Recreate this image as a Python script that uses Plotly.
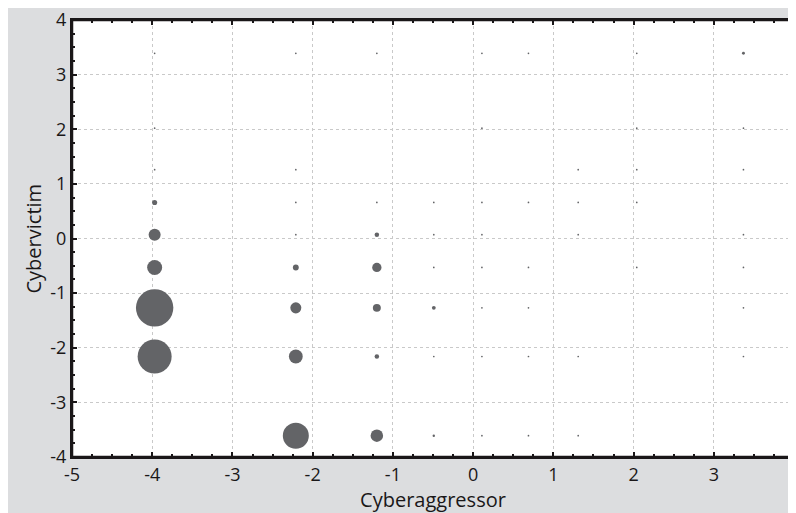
import plotly.graph_objects as go

# Column (Cyberaggressor) and row (Cybervictim) positions
col_x = [-3.97, -2.21, -1.20, -0.49, 0.11, 0.69, 1.31, 2.04, 3.37]
row_y = [3.39, 2.02, 1.26, 0.66, 0.07, -0.53, -1.27, -2.16, -3.61]

# Frequency of each (column, row) combination, rows top -> bottom, 0 = no point
counts_r1 = [1, 1, 1, 0, 1, 1, 0, 1, 3]      # y = 3.39
counts_r2 = [1, 0, 0, 0, 1, 0, 0, 1, 1]      # y = 2.02
counts_r3 = [1, 1, 0, 0, 0, 0, 1, 1, 1]      # y = 1.26
counts_r4 = [9, 1, 1, 1, 1, 1, 1, 1, 0]      # y = 0.66
counts_r5 = [50, 1, 7, 1, 1, 0, 1, 0, 1]     # y = 0.07
counts_r6 = [78, 12, 30, 1, 1, 1, 0, 1, 1]   # y = -0.53
counts_r7 = [484, 42, 22, 5, 1, 1, 0, 0, 1]  # y = -1.27
counts_r8 = [400, 66, 7, 1, 1, 1, 1, 0, 1]   # y = -2.16
counts_r9 = [0, 234, 54, 2, 1, 1, 1, 0, 0]   # y = -3.61

x_ticks = [-5, -4, -3, -2, -1, 0, 1, 2, 3, 4]
y_ticks = [-4, -3, -2, -1, 0, 1, 2, 3, 4]
x_range = [-5.0001, 4.0001]
y_range = [-4.0001, 4.0001]
minor_step = 0.25

x_minor = [x_ticks[0] + i * minor_step for i in range(int((x_ticks[-1] - x_ticks[0]) / minor_step) + 1)]
y_minor = [y_ticks[0] + i * minor_step for i in range(int((y_ticks[-1] - y_ticks[0]) / minor_step) + 1)]

count_rows = [counts_r1, counts_r2, counts_r3, counts_r4, counts_r5,
              counts_r6, counts_r7, counts_r8, counts_r9]

xs, ys, cs = [], [], []
for yv, row in zip(row_y, count_rows):
    for xv, c in zip(col_x, row):
        if c > 0:
            xs.append(xv)
            ys.append(yv)
            cs.append(c)

k = 1.7  # px diameter for a count of 1
fig = go.Figure()
fig.add_trace(go.Scatter(
    x=xs, y=ys, mode="markers",
    marker=dict(size=cs, sizemode="area", sizeref=2.0 / (k * k), sizemin=0,
                color="#636467", opacity=1, line=dict(width=0)),
    hoverinfo="x+y+text", text=[str(c) for c in cs], showlegend=False,
))
# empty trace to activate the minor-tick axes
fig.add_trace(go.Scatter(x=[], y=[], xaxis="x2", yaxis="y2", showlegend=False,
                         hoverinfo="skip"))

font_family = "Open Sans, Noto Sans, sans-serif"
ink = "#1a1718"

fig.update_layout(
    width=788, height=505,
    margin=dict(l=64, r=2, t=12, b=56),
    paper_bgcolor="#dcdddf", plot_bgcolor="white",
    font=dict(family=font_family, color=ink),
    xaxis=dict(range=x_range, tickvals=x_ticks, ticktext=[str(v) for v in x_ticks],
               showline=True, linecolor=ink, linewidth=2, mirror="ticks",
               ticks="inside", ticklen=5, tickwidth=1.5, tickcolor=ink,
               zeroline=False, automargin=False, ticklabeloverflow="allow",
               showgrid=True, gridcolor="#c9c9c9", gridwidth=1, griddash="dot",
               tickfont=dict(family=font_family, size=18, color=ink),
               title=dict(text="Cyberaggressor", font=dict(size=20, family=font_family, color=ink))),
    yaxis=dict(range=y_range, tickvals=y_ticks, ticktext=[str(v) for v in y_ticks],
               showline=True, linecolor=ink, linewidth=2, mirror="ticks",
               ticks="inside", ticklen=5, tickwidth=1.5, tickcolor=ink,
               zeroline=False, automargin=False, ticklabeloverflow="allow",
               showgrid=True, gridcolor="#c9c9c9", gridwidth=1, griddash="dot",
               tickfont=dict(family=font_family, size=18, color=ink)),
    xaxis2=dict(range=x_range, tickvals=x_minor, overlaying="x", side="bottom",
                showline=False, mirror="ticks", ticks="inside", ticklen=3,
                tickwidth=1.5, tickcolor=ink, showticklabels=False,
                showgrid=False, zeroline=False, automargin=False),
    yaxis2=dict(range=y_range, tickvals=y_minor, overlaying="y", side="left",
                showline=False, mirror="ticks", ticks="inside", ticklen=3,
                tickwidth=1.5, tickcolor=ink, showticklabels=False,
                showgrid=False, zeroline=False, automargin=False),
    shapes=[dict(type="rect", xref="paper", yref="paper", x0=0, x1=1, y0=0, y1=1,
                 line=dict(color=ink, width=2.5), fillcolor="rgba(0,0,0,0)", layer="above")],
    annotations=[dict(text="Cybervictim", textangle=-90, xref="paper", yref="paper",
                      x=0, y=0.5, xshift=-39, xanchor="center", yanchor="middle",
                      showarrow=False,
                      font=dict(size=20, family=font_family, color=ink))],
)

fig.write_html("out.html")
